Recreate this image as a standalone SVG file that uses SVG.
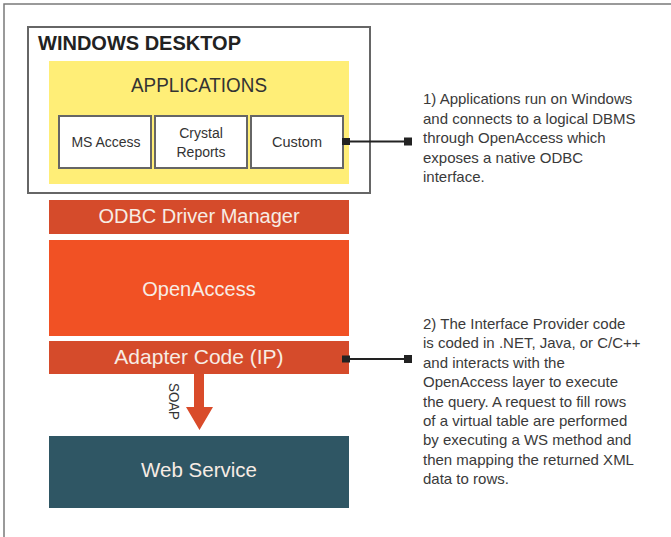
<svg xmlns="http://www.w3.org/2000/svg" width="671" height="537" viewBox="0 0 671 537">
<style>
  text { font-family: "Liberation Sans", Arial, sans-serif; }
  .frame { fill: none; stroke: #7a7a7a; stroke-width: 1.5; }
  .desk { fill: #ffffff; stroke: #666666; stroke-width: 2; }
  .app { fill: #ffffff; stroke: #666666; stroke-width: 2; }
  .dark { fill: #333333; }
  .light { fill: #f7ece4; }
  .note { fill: #3a3a3a; font-size: 15px; }
  .conn { stroke: #222222; stroke-width: 2; fill: none; }
  .sq { fill: #222222; }
</style>
<rect width="671" height="537" fill="#ffffff"/>
<path class="frame" d="M4,537 V4 H671"/>

<g id="windows-desktop">
  <rect class="desk" x="28" y="27" width="342" height="166"/>
  <text x="38" y="50" font-size="20" font-weight="bold" fill="#222222">WINDOWS DESKTOP</text>
</g>

<g id="applications">
  <rect x="49" y="61" width="300" height="123" fill="#ffee77"/>
  <text class="dark" x="199" y="92" font-size="20" text-anchor="middle" textLength="136" lengthAdjust="spacingAndGlyphs">APPLICATIONS</text>
</g>

<g id="ms-access">
  <rect class="app" x="59" y="116" width="92" height="52"/>
  <text class="dark" x="106" y="147" font-size="14" text-anchor="middle">MS Access</text>
</g>

<g id="crystal-reports">
  <rect class="app" x="155" y="116" width="92" height="52"/>
  <text class="dark" x="201" y="138" font-size="14" text-anchor="middle">Crystal</text>
  <text class="dark" x="201" y="157" font-size="14" text-anchor="middle">Reports</text>
</g>

<g id="custom">
  <rect class="app" x="251" y="116" width="92" height="52"/>
  <text class="dark" x="297" y="147" font-size="14.5" text-anchor="middle">Custom</text>
</g>

<g id="odbc-driver-manager">
  <rect x="49" y="200" width="300" height="34" fill="#d54b2b"/>
  <text class="light" x="199" y="223" font-size="20" text-anchor="middle">ODBC Driver Manager</text>
</g>

<g id="openaccess">
  <rect x="49" y="240" width="300" height="96" fill="#f15124"/>
  <text class="light" x="199" y="296" font-size="20" text-anchor="middle">OpenAccess</text>
</g>

<g id="adapter-code">
  <rect x="49" y="341" width="300" height="33" fill="#d54b2b"/>
  <text class="light" x="199" y="364" font-size="21" text-anchor="middle">Adapter Code (IP)</text>
</g>

<g id="web-service">
  <rect x="49" y="436" width="300" height="72" fill="#2f5664"/>
  <text class="light" x="199" y="477" font-size="20.5" text-anchor="middle">Web Service</text>
</g>

<g id="note-1">
  <text class="note">
    <tspan x="423" y="104">1) Applications run on Windows</tspan>
    <tspan x="423" y="123.5">and connects to a logical DBMS</tspan>
    <tspan x="423" y="143">through OpenAccess which</tspan>
    <tspan x="423" y="162.5">exposes a native ODBC</tspan>
    <tspan x="423" y="182">interface.</tspan>
  </text>
</g>

<g id="note-2">
  <text class="note">
    <tspan x="423" y="329">2) The Interface Provider code</tspan>
    <tspan x="423" y="348.4">is coded in .NET, Java, or C/C++</tspan>
    <tspan x="423" y="367.8">and interacts with the</tspan>
    <tspan x="423" y="387.2">OpenAccess layer to execute</tspan>
    <tspan x="423" y="406.6">the query. A request to fill rows</tspan>
    <tspan x="423" y="426">of a virtual table are performed</tspan>
    <tspan x="423" y="445.4">by executing a WS method and</tspan>
    <tspan x="423" y="464.8">then mapping the returned XML</tspan>
    <tspan x="423" y="484.2">data to rows.</tspan>
  </text>
</g>

<g id="connectors">
  <line class="conn" x1="346" y1="141.5" x2="408" y2="141.5"/>
  <rect class="sq" x="342" y="138" width="8" height="7"/>
  <rect class="sq" x="404" y="137.5" width="8" height="8"/>
  <line class="conn" x1="346" y1="359" x2="408" y2="359"/>
  <rect class="sq" x="342" y="355.5" width="8" height="7"/>
  <rect class="sq" x="404" y="355" width="8" height="8"/>
  <path d="M194,374 H204 V407 H213 L199.5,430 L186,407 H194 Z" fill="#d94b2a"/>
  <text transform="translate(169,383) rotate(90)" font-size="14" fill="#333333" textLength="37" lengthAdjust="spacingAndGlyphs">SOAP</text>
</g>
</svg>
